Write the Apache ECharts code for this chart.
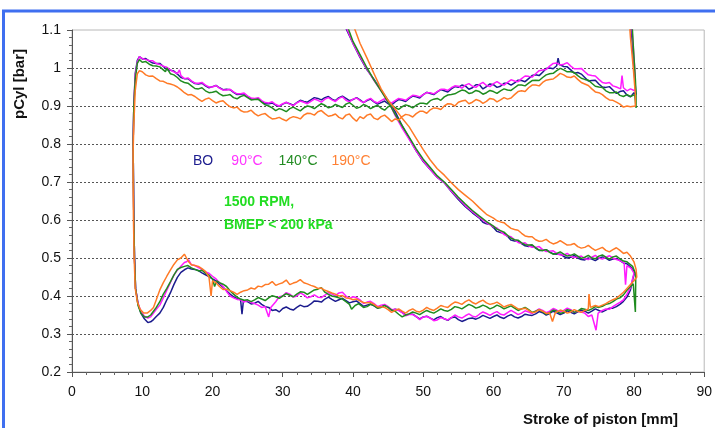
<!DOCTYPE html>
<html>
<head>
<meta charset="utf-8">
<script src="https://cdn.jsdelivr.net/npm/echarts@6/dist/echarts.min.js"></script>
<style>
  html, body { margin: 0; padding: 0; background: #ffffff; }
  #chart { width: 715px; height: 428px; }
</style>
</head>
<body>
<div id="chart"></div>
<script>
// Stroke of piston [mm] vs. cylinder pressure [bar], low-pressure part of the cycle.
// Each run is split into: blowdown + exhaust stroke, intake stroke, compression stroke.

const seriesNames = ['BO', '90°C', '140°C', '190°C'];
const xTicks = [0, 10, 20, 30, 40, 50, 60, 70, 80, 90];
const yTicks = [0.2, 0.3, 0.4, 0.5, 0.6, 0.7, 0.8, 0.9, 1.0, 1.1];

// ---- BO ----
const boExhaust = [[79.3,1.16],[79.7,1.08],[80.0,1.0],[80.2,0.95],[80.3,0.93],
  [80,0.935],[79.5,0.924],[79,0.929],[78.5,0.94],[78,0.938],[77.5,0.933],[77,0.942],[76.5,0.951],[76,0.949],[75.5,0.95],[75,0.958],[74.5,0.968],[74,0.967],[73.5,0.966],[73,0.975],[72.5,0.984],[72,0.988],[71.5,0.986],[71,0.995],[70.5,1.003],[70,1.004],[69.4,1.009],[69.2,1.026],[69,1.006],[68.5,0.998],[68,1.0],[67.5,0.999],[67,0.989],[66.5,0.98],[66,0.982],[65.5,0.98],[65,0.972],[64.5,0.964],[64,0.967],[63.5,0.968],[63,0.961],[62.5,0.955],[62,0.96],[61.5,0.96],[61,0.952],[60.5,0.949],[60,0.956],[59.5,0.958],[59,0.951],[58.5,0.945],[58,0.956],[57.5,0.956],[57,0.948],[56.5,0.944],[56,0.953],[55.5,0.955],[55,0.949],[54.5,0.951],[54,0.945],[53.5,0.937],[53,0.94],[52.5,0.943],[52,0.937],[51.5,0.93],[51,0.933],[50.5,0.936],[50,0.93],[49.5,0.921],[49,0.924],[48.5,0.926],[48,0.92],[47.5,0.912],[47,0.915],[46.5,0.917],[46,0.911],[45.5,0.903],[45,0.906],[44.5,0.913],[44,0.909],[43.5,0.905],[43,0.911],[42.5,0.918],[42,0.914],[41.5,0.909],[41,0.916],[40.5,0.922],[40,0.917],[39.5,0.914],[39,0.92],[38.5,0.926],[38,0.922],[37.5,0.914],[37,0.918],[36.5,0.925],[36,0.922],[35.5,0.916],[35,0.92],[34.5,0.922],[34,0.916],[33.5,0.91],[33,0.912],[32.5,0.915],[32,0.909],[31.5,0.902],[31,0.906],[30.5,0.909],[30,0.905],[29.5,0.899],[29,0.902],[28.5,0.908],[28,0.906],[27.5,0.906],[27,0.912],[26.5,0.919],[26,0.918],[25.5,0.919],[25,0.925],[24.5,0.932],[24,0.931],[23.5,0.93],[23,0.936],[22.5,0.943],[22,0.944],[21.5,0.943],[21,0.948],[20.5,0.954],[20,0.951],[19.5,0.948],[19,0.953],[18.5,0.96],[18,0.958],[17.5,0.959],[17,0.965],[16.5,0.972],[16,0.972],[15.5,0.975],[15,0.984],[14.5,0.992],[14,0.994],[13.5,0.996],[13,1.004],[12.5,1.012],[12,1.012],[11.5,1.013],[11,1.018],[10.5,1.025],[10,1.024],[9.6,1.03],[9.3,1.02],[9.0,0.985],[8.8,0.9],[8.7,0.8]];
const boIntake = [[8.75,0.7],[8.8,0.6],[8.9,0.5],[9.05,0.42],[9.4,0.38],[9.8,0.355],[10.3,0.34],[10.8,0.33],[11.2,0.332],[11.6,0.338],[12,0.346],[12.5,0.355],[13,0.37],[13.5,0.39],[14,0.408],[14.5,0.43],[15,0.449],[15.5,0.462],[16,0.469],[16.5,0.474],[17,0.471],[17.5,0.47],[18,0.467],[18.5,0.461],[19,0.456],[19.5,0.451],[20,0.445],[20.5,0.44],[21,0.431],[21.5,0.423],[22,0.414],[22.5,0.405],[23,0.398],[23.5,0.393],[24,0.39],[24.2,0.352],[24.4,0.388],[25,0.385],[25.5,0.379],[26,0.381],[26.5,0.386],[27,0.378],[27.5,0.372],[28,0.37],[28.5,0.362],[29,0.364],[29.5,0.358],[30,0.367],[30.5,0.371],[31,0.366],[31.5,0.363],[32,0.37],[32.5,0.376],[33,0.372],[33.5,0.373],[34,0.379],[34.5,0.387],[35,0.386],[35.5,0.384],[36,0.392],[36.5,0.397],[37,0.391],[37.5,0.386],[38,0.39],[38.5,0.394],[39,0.388],[39.5,0.382],[40,0.385],[40.5,0.387],[41,0.38],[41.5,0.373],[42,0.376],[42.5,0.379],[43,0.374],[43.5,0.368],[44,0.372],[44.5,0.376],[45,0.371],[45.5,0.362],[46,0.365],[46.5,0.363],[47,0.357],[47.5,0.35],[48,0.352],[48.5,0.352],[49,0.346],[49.5,0.34],[50,0.345],[50.5,0.347],[51,0.342],[51.5,0.337],[52,0.343],[52.5,0.346],[53,0.34],[53.5,0.336],[54,0.343],[54.5,0.345],[55,0.338],[55.5,0.333],[56,0.337],[56.5,0.341],[57,0.342],[57.5,0.339],[58,0.343],[58.5,0.349],[59,0.345],[59.5,0.341],[60,0.346],[60.5,0.35],[61,0.344],[61.5,0.341],[62,0.347],[62.5,0.351],[63,0.345],[63.5,0.342],[64,0.346],[64.5,0.352],[65,0.35],[65.5,0.349],[66,0.353],[66.5,0.359],[67,0.356],[67.5,0.35],[68,0.354],[68.5,0.36],[69,0.356],[69.5,0.351],[70,0.355],[70.5,0.361],[71,0.357],[71.5,0.353],[72,0.358],[72.5,0.363],[73,0.36],[73.5,0.355],[74,0.36],[74.5,0.366],[75,0.362],[75.5,0.358],[76,0.363],[76.5,0.368],[77,0.368],[77.5,0.372],[78,0.378],[78.5,0.386],[79,0.397],[79.5,0.416],[79.9,0.45]];
const boCompression = [[80.1,0.462],[79.6,0.475],[79,0.485],[78.5,0.487],[78,0.493],[77.5,0.499],[77,0.497],[76.5,0.494],[76,0.5],[75.5,0.503],[75,0.499],[74.5,0.493],[74,0.497],[73.5,0.5],[73,0.495],[72.5,0.496],[72,0.5],[71.5,0.507],[71,0.502],[70.5,0.5],[70,0.504],[69.5,0.51],[69,0.51],[68.5,0.511],[68,0.516],[67.5,0.522],[67,0.52],[66.5,0.52],[66,0.526],[65.5,0.533],[65,0.53],[64.5,0.532],[64,0.538],[63.5,0.545],[63,0.545],[62.5,0.547],[62,0.557],[61.5,0.565],[61,0.567],[60.5,0.57],[60,0.58],[59.5,0.589],[59,0.59],[58.5,0.594],[58,0.605],[57,0.619],[56,0.635],[55,0.654],[54,0.675],[53,0.698],[52,0.712],[51,0.733],[50,0.754],[49,0.782],[48,0.815],[47,0.848],[46,0.885],[45.5,0.9],[45,0.915],[44,0.942],[43,0.97],[42,0.995],[41,1.028],[40,1.065],[39.1,1.1],[38.5,1.13]];

// ---- 90°C ----
const c90Exhaust = [[79.5,1.16],[79.8,1.08],[80.1,1.0],[80.2,0.95],
  [80.1,0.94],[79.5,0.945],[79,0.94],[78.5,0.948],[78.3,0.98],[78.1,0.945],[77.5,0.95],[77,0.953],[76.5,0.962],[76,0.96],[75.5,0.962],[75,0.97],[74.5,0.979],[74,0.98],[73.5,0.982],[73,0.99],[72.5,0.999],[72,0.998],[71.5,0.998],[71,1.005],[70.5,1.014],[70,1.01],[69.5,1.008],[69,1.013],[68.5,1.012],[68,1.005],[67.5,0.996],[67,0.995],[66.5,0.993],[66,0.985],[65.5,0.976],[65,0.978],[64.5,0.979],[64,0.972],[63.5,0.964],[63,0.966],[62.5,0.969],[62,0.962],[61.5,0.955],[61,0.958],[60.5,0.964],[60,0.959],[59.5,0.951],[59,0.954],[58.5,0.962],[58,0.957],[57.5,0.949],[57,0.952],[56.5,0.959],[56,0.955],[55.5,0.947],[55,0.952],[54.5,0.953],[54,0.948],[53.5,0.941],[53,0.944],[52.5,0.944],[52,0.938],[51.5,0.932],[51,0.935],[50.5,0.935],[50,0.93],[49.5,0.924],[49,0.927],[48.5,0.928],[48,0.922],[47.5,0.915],[47,0.918],[46.5,0.92],[46,0.914],[45.5,0.908],[45,0.912],[44.5,0.919],[44,0.914],[43.5,0.908],[43,0.912],[42.5,0.92],[42,0.916],[41.5,0.909],[41,0.914],[40.5,0.921],[40,0.918],[39.5,0.911],[39,0.915],[38.5,0.924],[38,0.92],[37.5,0.912],[37,0.916],[36.5,0.922],[36,0.918],[35.5,0.91],[35,0.915],[34.5,0.918],[34,0.912],[33.5,0.906],[33,0.91],[32.5,0.913],[32,0.908],[31.5,0.901],[31,0.905],[30.5,0.91],[30,0.906],[29.5,0.9],[29,0.904],[28.5,0.911],[28,0.908],[27.5,0.909],[27,0.914],[26.5,0.922],[26,0.92],[25.5,0.921],[25,0.926],[24.5,0.934],[24,0.932],[23.5,0.932],[23,0.937],[22.5,0.944],[22,0.942],[21.5,0.942],[21,0.947],[20.5,0.954],[20,0.95],[19.5,0.95],[19,0.955],[18.5,0.962],[18,0.96],[17.5,0.96],[17,0.966],[16.5,0.974],[16,0.972],[15.5,0.98],[15.3,0.995],[15,0.985],[14.5,0.99],[14,0.995],[13.5,1.002],[13,1.005],[12.5,1.009],[12,1.012],[11.5,1.019],[11,1.02],[10.5,1.022],[10,1.025],[9.6,1.03],[9.3,1.015],[9.0,0.98],[8.8,0.9],[8.7,0.8]];
const c90Intake = [[8.75,0.7],[8.8,0.6],[8.9,0.5],[9.05,0.42],[9.4,0.38],[9.8,0.36],[10.3,0.347],[10.8,0.342],[11.2,0.345],[11.6,0.355],[12,0.365],[12.5,0.376],[13,0.395],[13.5,0.415],[14,0.435],[14.5,0.455],[15,0.468],[15.5,0.478],[16,0.488],[16.3,0.49],[16.6,0.495],[17,0.482],[17.5,0.48],[18,0.475],[18.5,0.47],[19,0.463],[19.5,0.46],[20,0.452],[20.5,0.445],[21,0.435],[21.5,0.425],[22,0.412],[22.5,0.4],[23,0.395],[23.5,0.391],[24,0.39],[24.5,0.384],[25,0.388],[25.5,0.383],[26,0.38],[26.5,0.376],[27,0.37],[27.5,0.372],[28,0.345],[28.3,0.37],[29,0.385],[29.5,0.398],[30,0.4],[30.5,0.409],[31,0.405],[31.5,0.397],[32,0.4],[32.5,0.408],[33,0.403],[33.5,0.395],[34,0.398],[34.5,0.403],[35,0.397],[35.5,0.396],[36,0.402],[36.5,0.409],[37,0.405],[37.5,0.401],[38,0.408],[38.5,0.41],[39,0.4],[39.5,0.393],[40,0.398],[40.5,0.396],[41,0.39],[41.5,0.38],[42,0.384],[42.5,0.386],[43,0.38],[43.5,0.372],[44,0.376],[44.5,0.378],[45,0.372],[45.5,0.364],[46,0.365],[46.5,0.362],[47,0.356],[47.5,0.348],[48,0.352],[48.5,0.351],[49,0.346],[49.5,0.338],[50,0.345],[50.5,0.346],[51,0.342],[51.5,0.335],[52,0.337],[52.5,0.343],[53,0.34],[53.5,0.337],[54,0.343],[54.5,0.35],[55,0.345],[55.5,0.342],[56,0.348],[56.5,0.353],[57,0.347],[57.5,0.345],[58,0.352],[58.5,0.358],[59,0.354],[59.5,0.349],[60,0.355],[60.5,0.359],[61,0.352],[61.5,0.35],[62,0.356],[62.5,0.362],[63,0.357],[63.5,0.351],[64,0.355],[64.5,0.361],[65,0.358],[65.5,0.354],[66,0.36],[66.5,0.366],[67,0.362],[67.5,0.356],[68,0.36],[68.5,0.367],[69,0.363],[69.5,0.358],[70,0.362],[70.5,0.368],[71,0.364],[71.5,0.357],[72,0.36],[72.5,0.358],[73,0.355],[73.5,0.346],[74,0.35],[74.6,0.31],[74.9,0.355],[75.5,0.362],[76,0.366],[76.5,0.365],[77,0.372],[77.5,0.378],[78,0.383],[78.5,0.39],[79,0.405],[79.5,0.422],[79.8,0.445]];
const c90Compression = [[80,0.46],[79.6,0.473],[79,0.48],[78.8,0.43],[78.6,0.487],[78,0.493],[77.5,0.496],[77,0.5],[76.5,0.506],[76,0.502],[75.5,0.497],[75,0.5],[74.5,0.507],[74,0.502],[73.5,0.496],[73,0.498],[72.5,0.505],[72,0.503],[71.5,0.501],[71,0.505],[70.5,0.512],[70,0.508],[69.5,0.508],[69,0.512],[68.5,0.519],[68,0.518],[67.5,0.517],[67,0.522],[66.5,0.53],[66,0.528],[65.5,0.528],[65,0.532],[64.5,0.54],[64,0.538],[63.5,0.541],[63,0.548],[62.5,0.556],[62,0.558],[61.5,0.562],[61,0.57],[60.5,0.579],[60,0.582],[59,0.593],[58,0.607],[57,0.622],[56,0.638],[55,0.657],[54,0.676],[53,0.698],[52,0.712],[51,0.733],[50,0.755],[49,0.782],[48,0.812],[47,0.842],[46,0.875],[45.5,0.895],[45,0.912],[44,0.94],[43,0.967],[42,0.997],[41,1.03],[40,1.065],[39.2,1.1],[38.6,1.13]];

// ---- 140°C ----
const c140Exhaust = [[79.6,1.16],[79.9,1.06],[80.2,0.97],[80.3,0.93],[80.3,0.895],
  [80.1,0.93],[79.5,0.925],[79,0.93],[78.5,0.925],[78,0.928],[77.5,0.937],[77,0.935],[76.5,0.935],[76,0.94],[75.5,0.949],[75,0.95],[74.5,0.952],[74,0.96],[73.5,0.968],[73,0.97],[72.5,0.973],[72,0.98],[71.5,0.988],[71,0.99],[70.5,0.99],[70,0.995],[69.5,0.999],[69,0.993],[68.5,0.986],[68,0.985],[67.5,0.982],[67,0.975],[66.5,0.967],[66,0.968],[65.5,0.967],[65,0.96],[64.5,0.953],[64,0.955],[63.5,0.955],[63,0.948],[62.5,0.941],[62,0.942],[61.5,0.945],[61,0.94],[60.5,0.933],[60,0.938],[59.5,0.941],[59,0.935],[58.5,0.931],[58,0.938],[57.5,0.941],[57,0.935],[56.5,0.933],[56,0.94],[55.5,0.942],[55,0.937],[54.5,0.932],[54,0.93],[53.5,0.929],[53,0.924],[52.5,0.915],[52,0.92],[51.5,0.918],[51,0.914],[50.5,0.905],[50,0.907],[49.5,0.907],[49,0.902],[48.5,0.895],[48,0.9],[47.5,0.903],[47,0.898],[46.5,0.891],[46,0.896],[45.5,0.902],[45,0.898],[44.5,0.889],[44,0.894],[43.5,0.902],[43,0.898],[42.5,0.893],[42,0.9],[41.5,0.904],[41,0.897],[40.5,0.894],[40,0.902],[39.5,0.909],[39,0.905],[38.5,0.896],[38,0.9],[37.5,0.904],[37,0.898],[36.5,0.895],[36,0.902],[35.5,0.906],[35,0.9],[34.5,0.893],[34,0.898],[33.5,0.9],[33,0.895],[32.5,0.887],[32,0.892],[31.5,0.897],[31,0.893],[30.5,0.885],[30,0.89],[29.5,0.893],[29,0.888],[28.5,0.895],[28,0.9],[27.5,0.903],[27,0.91],[26.5,0.918],[26,0.917],[25.5,0.916],[25,0.922],[24.5,0.928],[24,0.925],[23.5,0.919],[23,0.922],[22.5,0.93],[22,0.928],[21.5,0.927],[21,0.932],[20.5,0.939],[20,0.936],[19.5,0.935],[19,0.94],[18.5,0.948],[18,0.945],[17.5,0.946],[17,0.953],[16.5,0.96],[16,0.962],[15.5,0.966],[15,0.975],[14.5,0.982],[14,0.985],[13.5,1.0],[13.3,0.99],[13,0.995],[12.5,1.003],[12,1.005],[11.5,1.006],[11,1.01],[10.5,1.017],[10,1.015],[9.6,1.022],[9.3,1.012],[9.0,0.97],[8.8,0.9],[8.7,0.8]];
const c140Intake = [[8.75,0.7],[8.8,0.6],[8.9,0.5],[9.05,0.42],[9.4,0.375],[9.8,0.355],[10.3,0.345],[10.8,0.345],[11.2,0.35],[11.6,0.36],[12,0.37],[12.5,0.385],[13,0.405],[13.5,0.42],[14,0.437],[14.5,0.455],[15,0.47],[15.5,0.475],[16,0.478],[16.5,0.48],[17,0.474],[17.5,0.47],[18,0.466],[18.5,0.468],[19,0.46],[19.5,0.455],[20,0.445],[20.3,0.425],[20.6,0.44],[21,0.435],[21.5,0.431],[22,0.425],[22.5,0.414],[23,0.405],[23.5,0.397],[24,0.392],[24.5,0.389],[25,0.39],[25.5,0.385],[26,0.39],[26.5,0.396],[27,0.392],[27.5,0.388],[28,0.395],[28.5,0.401],[29,0.398],[29.5,0.394],[30,0.4],[30.5,0.406],[31,0.402],[31.5,0.398],[32,0.405],[32.5,0.411],[33,0.41],[33.5,0.404],[34,0.41],[34.5,0.416],[35,0.418],[35.5,0.422],[36,0.41],[36.5,0.404],[37,0.4],[37.5,0.398],[38,0.395],[38.5,0.392],[39,0.385],[39.5,0.378],[39.8,0.365],[40.3,0.375],[40.8,0.38],[41,0.375],[41.5,0.37],[42,0.372],[42.5,0.378],[43,0.375],[43.5,0.368],[44,0.37],[44.5,0.375],[45,0.37],[45.5,0.363],[46,0.36],[46.5,0.352],[47,0.345],[47.5,0.35],[48,0.353],[48.5,0.358],[49,0.355],[49.5,0.351],[50,0.357],[50.5,0.362],[51,0.358],[51.5,0.355],[52,0.36],[52.5,0.366],[53,0.362],[53.5,0.36],[54,0.365],[54.5,0.372],[55,0.37],[55.5,0.366],[56,0.372],[56.5,0.378],[57,0.374],[57.5,0.368],[58,0.371],[58.5,0.376],[59,0.372],[59.5,0.366],[60,0.37],[60.5,0.376],[61,0.372],[61.5,0.366],[62,0.37],[62.5,0.374],[63,0.368],[63.5,0.362],[64,0.366],[64.5,0.37],[65,0.364],[65.5,0.357],[66,0.36],[66.5,0.364],[67,0.358],[67.5,0.352],[68,0.356],[68.5,0.363],[69,0.36],[69.5,0.354],[70,0.357],[70.5,0.364],[71,0.362],[71.5,0.357],[72,0.36],[72.5,0.367],[73,0.365],[73.5,0.362],[74,0.366],[74.5,0.372],[75,0.37],[75.5,0.373],[76,0.378],[76.5,0.38],[77,0.385],[77.5,0.392],[78,0.395],[78.5,0.403],[79,0.415],[79.5,0.425],[79.9,0.432],[80.2,0.358],[80.25,0.44]];
const c140Compression = [[80.2,0.46],[79.8,0.478],[79,0.49],[78.5,0.492],[78,0.498],[77.5,0.505],[77,0.503],[76.5,0.497],[76,0.502],[75.5,0.508],[75,0.505],[74.5,0.498],[74,0.5],[73.5,0.507],[73,0.502],[72.5,0.499],[72,0.505],[71.5,0.511],[71,0.507],[70.5,0.505],[70,0.51],[69.5,0.516],[69,0.512],[68.5,0.51],[68,0.515],[67.5,0.522],[67,0.52],[66.5,0.521],[66,0.527],[65.5,0.535],[65,0.534],[64.5,0.535],[64,0.54],[63.5,0.547],[63,0.548],[62.5,0.552],[62,0.56],[61.5,0.568],[61,0.572],[60.5,0.576],[60,0.584],[59,0.596],[58,0.61],[57,0.625],[56,0.642],[55,0.66],[54,0.68],[53,0.7],[52,0.716],[51,0.738],[50,0.76],[49,0.787],[48,0.818],[47,0.848],[46,0.878],[45.5,0.895],[45,0.91],[44,0.94],[43,0.968],[42,1.0],[41,1.035],[40,1.07],[39.4,1.1],[38.8,1.13]];

// ---- 190°C ----
const c190Exhaust = [[79.2,1.16],[79.5,1.08],[79.9,1.0],[80.2,0.93],
  [80.2,0.9],[79.5,0.898],[79,0.9],[78.5,0.897],[78,0.905],[77.5,0.91],[77,0.915],[76.5,0.916],[76,0.922],[75.5,0.93],[75,0.935],[74.5,0.937],[74,0.945],[73.5,0.954],[73,0.958],[72.5,0.962],[72,0.97],[71.5,0.979],[71,0.975],[70.5,0.976],[70,0.982],[69.5,0.986],[69,0.978],[68.5,0.971],[68,0.97],[67.5,0.968],[67,0.962],[66.5,0.953],[66,0.955],[65.5,0.955],[65,0.948],[64.5,0.938],[64,0.94],[63.5,0.938],[63,0.93],[62.5,0.921],[62,0.918],[61.5,0.922],[61,0.916],[60.5,0.911],[60,0.918],[59.5,0.92],[59,0.912],[58.5,0.907],[58,0.914],[57.5,0.917],[57,0.91],[56.5,0.906],[56,0.915],[55.5,0.913],[55,0.91],[54.5,0.9],[54,0.905],[53.5,0.906],[53,0.9],[52.5,0.891],[52,0.894],[51.5,0.895],[51,0.89],[50.5,0.881],[50,0.886],[49.5,0.886],[49,0.88],[48.5,0.871],[48,0.876],[47.5,0.878],[47,0.872],[46.5,0.863],[46,0.866],[45.5,0.859],[45,0.868],[44.5,0.876],[44,0.872],[43.5,0.864],[43,0.868],[42.5,0.879],[42,0.876],[41.5,0.867],[41,0.872],[40.5,0.86],[40,0.868],[39.5,0.879],[39,0.876],[38.5,0.866],[38,0.87],[37.5,0.879],[37,0.875],[36.5,0.873],[36,0.88],[35.5,0.888],[35,0.885],[34.5,0.876],[34,0.88],[33.5,0.881],[33,0.876],[32.5,0.866],[32,0.87],[31.5,0.872],[31,0.868],[30.5,0.861],[30,0.865],[29.5,0.87],[29,0.867],[28.5,0.866],[28,0.872],[27.5,0.88],[27,0.878],[26.5,0.874],[26,0.88],[25.5,0.889],[25,0.885],[24.5,0.884],[24,0.888],[23.5,0.897],[23,0.895],[22.5,0.898],[22,0.905],[21.5,0.914],[21,0.912],[20.5,0.908],[20,0.914],[19.5,0.921],[19,0.918],[18.5,0.912],[18,0.918],[17.5,0.925],[17,0.93],[16.5,0.929],[16,0.935],[15.5,0.943],[15.3,0.94],[15,0.95],[14.5,0.955],[14,0.958],[13.5,0.96],[13,0.965],[12.5,0.966],[12,0.972],[11.5,0.979],[11,0.978],[10.5,0.982],[10,0.99],[9.6,0.993],[9.3,0.985],[9.0,0.94],[8.8,0.85],[8.7,0.78]];
const c190Intake = [[8.7,0.7],[8.75,0.6],[8.85,0.5],[9.0,0.42],[9.3,0.385],[9.7,0.365],[10.2,0.355],[10.7,0.355],[11.2,0.362],[11.6,0.37],[12,0.39],[12.5,0.416],[13,0.435],[13.5,0.452],[14,0.468],[14.5,0.483],[15,0.495],[15.5,0.5],[16,0.51],[16.3,0.5],[16.6,0.49],[17,0.482],[17.5,0.48],[18,0.478],[18.5,0.472],[19,0.465],[19.5,0.45],[19.8,0.4],[20,0.44],[20.5,0.435],[21,0.425],[21.5,0.417],[22,0.418],[22.5,0.414],[23,0.41],[23.5,0.404],[24,0.41],[24.5,0.414],[25,0.416],[25.5,0.421],[26,0.418],[26.5,0.426],[27,0.424],[27.5,0.43],[28,0.431],[28.5,0.438],[29,0.428],[29.5,0.432],[30,0.435],[30.5,0.442],[31,0.43],[31.5,0.434],[32,0.437],[32.5,0.443],[33,0.435],[33.5,0.432],[34,0.428],[34.5,0.425],[35,0.42],[35.5,0.421],[36,0.415],[36.5,0.412],[37,0.408],[37.5,0.405],[38,0.4],[38.5,0.401],[39,0.395],[39.5,0.394],[40,0.39],[40.5,0.392],[41,0.387],[41.5,0.383],[42,0.382],[42.5,0.383],[43,0.378],[43.5,0.371],[44,0.372],[44.5,0.37],[45,0.364],[45.5,0.357],[46,0.362],[46.5,0.366],[47,0.36],[47.5,0.355],[48,0.362],[48.5,0.366],[49,0.36],[49.5,0.358],[50,0.363],[50.5,0.37],[51,0.365],[51.5,0.362],[52,0.368],[52.5,0.375],[53,0.372],[53.5,0.37],[54,0.378],[54.5,0.384],[55,0.382],[55.5,0.378],[56,0.385],[56.5,0.39],[57,0.383],[57.5,0.379],[58,0.385],[58.5,0.389],[59,0.382],[59.5,0.378],[60,0.38],[60.5,0.384],[61,0.378],[61.5,0.371],[62,0.375],[62.5,0.378],[63,0.372],[63.5,0.366],[64,0.366],[64.5,0.368],[65,0.362],[65.5,0.356],[66,0.358],[66.5,0.364],[67,0.36],[67.5,0.354],[68,0.355],[68.4,0.333],[68.8,0.356],[69,0.358],[69.5,0.363],[70,0.36],[70.5,0.355],[71,0.358],[71.5,0.364],[72,0.36],[72.5,0.357],[73,0.362],[73.5,0.366],[73.6,0.405],[73.8,0.37],[74,0.368],[74.5,0.375],[75,0.372],[75.5,0.376],[76,0.38],[76.5,0.386],[77,0.39],[77.5,0.394],[78,0.402],[78.5,0.41],[79,0.42],[79.5,0.43],[80,0.44],[80.4,0.45]];
const c190Compression = [[80.3,0.47],[80,0.49],[79.5,0.505],[79,0.515],[78.5,0.512],[78,0.52],[77.5,0.527],[77,0.522],[76.5,0.516],[76,0.52],[75.5,0.528],[75,0.524],[74.5,0.52],[74,0.526],[73.5,0.533],[73,0.528],[72.5,0.526],[72,0.53],[71.5,0.538],[71,0.535],[70.5,0.534],[70,0.54],[69.5,0.546],[69,0.54],[68.5,0.537],[68,0.542],[67.5,0.549],[67,0.545],[66.5,0.544],[66,0.548],[65.5,0.556],[65,0.556],[64.5,0.558],[64,0.565],[63.5,0.573],[63,0.575],[62.5,0.578],[62,0.585],[61.5,0.593],[61,0.595],[60.5,0.598],[60,0.605],[59,0.615],[58,0.632],[57,0.65],[56,0.665],[55,0.68],[54,0.698],[53,0.718],[52,0.735],[51,0.758],[50,0.785],[49,0.815],[48,0.845],[47,0.868],[46,0.892],[45,0.915],[44,0.945],[43,0.985],[42,1.026],[41,1.065],[40.3,1.1],[39.7,1.13]];

const lineColors = ['#1c1c8e', '#ff1aff', '#1f8c1f', '#ff7a26'];
const labelColors = ['#1c1c8e', '#ff33ff', '#228b22', '#ff8033'];

const cycles = [
  boExhaust.concat(boIntake, boCompression),
  c90Exhaust.concat(c90Intake, c90Compression),
  c140Exhaust.concat(c140Intake, c140Compression),
  c190Exhaust.concat(c190Intake, c190Compression)
];

const chart = echarts.init(document.getElementById('chart'), null, { renderer: 'canvas' });

const legendX = [203, 247, 298, 351];
const FONT = 'Liberation Sans, Arial, sans-serif';

chart.setOption({
  animation: false,
  backgroundColor: '#ffffff',
  grid: {
    left: 72, top: 30, right: 7, bottom: 56,
    show: true, borderColor: '#b8b8b8', borderWidth: 1, backgroundColor: 'transparent'
  },
  xAxis: {
    type: 'value', min: xTicks[0], max: xTicks[xTicks.length - 1], interval: 10,
    axisLine: { show: true, onZero: false, lineStyle: { color: '#555', width: 1 } },
    axisTick: { show: true, inside: false, length: 5, lineStyle: { color: '#555' } },
    minorTick: { show: true, splitNumber: 5, length: 3, lineStyle: { color: '#666' } },
    splitLine: { show: false },
    axisLabel: { color: '#111', fontSize: 14, fontFamily: FONT, margin: 13 }
  },
  yAxis: {
    type: 'value', min: yTicks[0], max: yTicks[yTicks.length - 1], interval: 0.1,
    axisLine: { show: true, onZero: false, lineStyle: { color: '#555', width: 1 } },
    axisTick: { show: true, inside: false, length: 5, lineStyle: { color: '#555' } },
    minorTick: { show: true, splitNumber: 5, length: 3, lineStyle: { color: '#666' } },
    splitLine: { show: true, showMinLine: false, showMaxLine: false, lineStyle: { color: '#555', type: [2, 2], width: 1 } },
    axisLabel: {
      color: '#111', fontSize: 14, fontFamily: FONT, margin: 11,
      formatter: v => (Math.abs(v - 1) < 1e-9 ? '1' : v.toFixed(1))
    }
  },
  series: cycles.map((data, i) => ({
    name: seriesNames[i],
    type: 'line',
    data: data,
    showSymbol: false,
    symbol: 'none',
    clip: true,
    lineStyle: { color: lineColors[i], width: 1.5 },
    z: 2 + i
  })),
  graphic: [
    {
      type: 'rect', silent: true, z: 100,
      shape: { x: 3.5, y: 11, width: 900, height: 600 },
      style: { fill: null, stroke: '#3f6ff0', lineWidth: 3 }
    },
    {
      type: 'text', x: 20, y: 84, rotation: Math.PI / 2, z: 100,
      style: { text: 'pCyl [bar]', font: 'bold 15px ' + FONT, fill: '#111', align: 'center', verticalAlign: 'middle' }
    },
    {
      type: 'text', x: 678, y: 420, z: 100,
      style: { text: 'Stroke of piston [mm]', font: 'bold 15px ' + FONT, fill: '#111', align: 'right', verticalAlign: 'middle' }
    },
    ...seriesNames.map((n, i) => ({
      type: 'text', x: legendX[i], y: 161, z: 100,
      style: { text: n, font: '14px ' + FONT, fill: labelColors[i], align: 'center', verticalAlign: 'middle' }
    })),
    {
      type: 'text', x: 224, y: 202, z: 100,
      style: { text: '1500 RPM,', font: 'bold 14px ' + FONT, fill: '#22dd22', align: 'left', verticalAlign: 'middle' }
    },
    {
      type: 'text', x: 224, y: 225, z: 100,
      style: { text: 'BMEP < 200 kPa', font: 'bold 14px ' + FONT, fill: '#22dd22', align: 'left', verticalAlign: 'middle' }
    }
  ]
});
</script>
</body>
</html>
